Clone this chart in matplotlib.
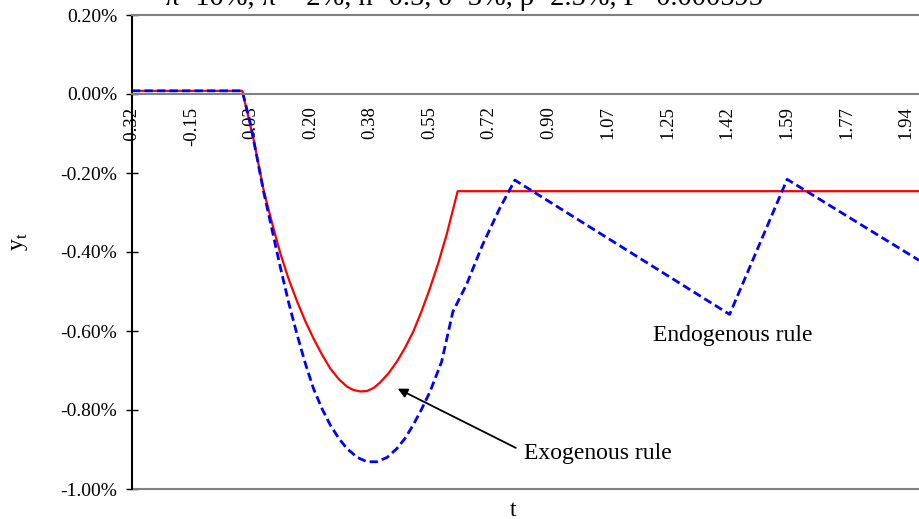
import matplotlib
matplotlib.use("Agg")
import matplotlib.pyplot as plt
import numpy as np
from matplotlib.ticker import FuncFormatter

plt.rcParams['font.family'] = ['Liberation Serif', 'DejaVu Serif']
plt.rcParams['mathtext.fontset'] = 'custom'
plt.rcParams['mathtext.rm'] = 'Liberation Serif'

# category labels shown on the t axis
tick_labels = ['-0.32', '-0.15', '0.03', '0.20', '0.38', '0.55', '0.72',
               '0.90', '1.07', '1.25', '1.42', '1.59', '1.77', '1.94']

# exogenous rule (red, solid), y_t in percent
t_exo = [-0.32, 0.002, 0.036, 0.065, 0.090, 0.114, 0.138, 0.162, 0.186, 0.210, 0.235,
         0.259, 0.284, 0.308, 0.326, 0.346, 0.366, 0.386, 0.405, 0.430, 0.453, 0.477, 0.501,
         0.525, 0.550, 0.575, 0.599, 0.631, 1.978]
y_exo = [0.008, 0.008, -0.119, -0.246, -0.330, -0.406, -0.470, -0.525, -0.575, -0.619, -0.660,
         -0.695, -0.722, -0.741, -0.749, -0.753, -0.752, -0.744, -0.730, -0.706, -0.678, -0.643, -0.602,
         -0.551, -0.492, -0.426, -0.355, -0.246, -0.246]

# endogenous rule (blue, dashed), y_t in percent
t_endo = [-0.32, 0.002, 0.026, 0.064, 0.090, 0.114, 0.138, 0.162, 0.186, 0.210, 0.235,
          0.259, 0.284, 0.308, 0.338, 0.366, 0.395, 0.425, 0.453, 0.477, 0.501, 0.525,
          0.550, 0.584, 0.617, 0.657, 0.704, 0.754, 0.798, 1.425, 1.593, 1.978]
y_endo = [0.008, 0.008, -0.076, -0.246, -0.348, -0.442, -0.530, -0.609, -0.682, -0.746, -0.797,
          -0.838, -0.872, -0.898, -0.920, -0.931, -0.931, -0.920, -0.898, -0.872, -0.838, -0.799,
          -0.754, -0.678, -0.551, -0.482, -0.381, -0.289, -0.218, -0.558, -0.216, -0.421]

title = "π=10%, π*=2%, n=0.5, δ=3%, ρ=2.5%, Γ=0.000595"

W, H = 919, 519
fig = plt.figure(figsize=(W / 100, H / 100), dpi=100)
ax = fig.add_axes([132 / W, (H - 489) / H, (W - 132) / W, (489 - 15) / H])

ax.plot(t_exo, y_exo, color='red', lw=1.6, solid_joinstyle='round')
ax.plot(t_endo, y_endo, color='blue', lw=2.0, dashes=(3, 1.5))

ax.set_xlim(-0.32, 1.978)
ax.set_ylim(-1.0, 0.2)

gray = '#808080'
ax.spines['right'].set_visible(False)
ax.spines['top'].set_color(gray)
ax.spines['top'].set_linewidth(1.5)
ax.spines['left'].set_color('black')
ax.spines['left'].set_linewidth(1.5)
ax.spines['bottom'].set_position(('data', 0))
ax.spines['bottom'].set_color(gray)
ax.spines['bottom'].set_linewidth(1.5)
ax.axhline(-1.0, color=gray, lw=1.5, clip_on=False)

ticks = np.linspace(float(tick_labels[0]), float(tick_labels[-1]), len(tick_labels))
ax.set_xticks(ticks)
ax.set_xticklabels(tick_labels, rotation=90)
ax.tick_params(axis='x', length=0, pad=9, labelsize=13.5)

ax.set_yticks(np.round(np.arange(-1.0, 0.21, 0.2), 2))
ax.yaxis.set_major_formatter(FuncFormatter(lambda v, p: f"{round(v, 2) + 0.0:.2f}%"))
ax.tick_params(axis='y', direction='inout', length=9, width=1, labelsize=14, pad=6)

fig.text(20 / W, 1 - 242 / H, r'y$_{\mathrm{t}}$', rotation=90, ha='center', va='center', fontsize=17)
fig.text(513 / W, 1 - 510 / H, 't', ha='center', va='center', fontsize=17)
fig.text(464 / W, 1 - 5 / H, title, ha='center', va='baseline', fontsize=20.5)

ax.text(1.433, -0.612, 'Endogenous rule', ha='center', va='center', fontsize=17)
ax.annotate('Exogenous rule', xy=(0.456, -0.746), xytext=(1.039, -0.911),
            ha='center', va='center', fontsize=17,
            arrowprops=dict(arrowstyle='-|>', color='black', lw=1.3,
                            mutation_scale=14, shrinkA=4, shrinkB=0,
                            relpos=(0.0, 0.6)))

fig.savefig('out.png', dpi=100)
